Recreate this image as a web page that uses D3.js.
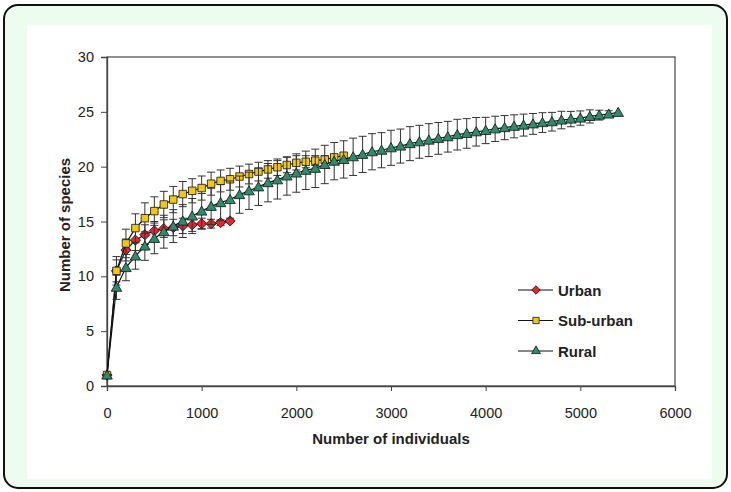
<!DOCTYPE html>
<html lang="en">
<head>
<meta charset="UTF-8">
<title>Species accumulation</title>
<script src="https://cdn.jsdelivr.net/npm/d3@7"></script>
<style>
  body { margin: 0; background: #fff; }
  svg text { font-family: "Liberation Sans", Arial, sans-serif; }
</style>
</head>
<body>
<script>
const w = 731
const h = 492

// Urban
const urbanN = [0, 100, 200, 300, 400, 500, 600, 700, 800, 900, 1000, 1100, 1200, 1300]
const urbanS = [1, 10.5, 12.4, 13.3, 13.8, 14.15, 14.35, 14.45, 14.6, 14.7, 14.8, 14.8, 14.9, 15.05]
const urbanErr = [0, 1.0, 1.0, 0.95, 0.9, 0.85, 0.8, 0.75, 0.7, 0.6, 0.5, 0.4, 0.25, 0]

// Sub-urban
const suburbN = [0, 100, 200, 300, 400, 500, 600, 700, 800, 900, 1000, 1100, 1200,
  1300, 1400, 1500, 1600, 1700, 1800, 1900, 2000, 2100, 2200, 2300, 2400, 2500]
const suburbS = [1, 10.5, 13.0, 14.4, 15.3, 15.95, 16.55, 17.0, 17.5, 17.8, 18.05, 18.45, 18.7,
  18.85, 19.1, 19.33, 19.55, 19.75, 19.95, 20.15, 20.35, 20.45, 20.55, 20.65, 20.85, 21.0]
const suburbErr = [0, 1.3, 1.3, 1.3, 1.4, 1.3, 1.2, 1.2, 1.15, 1.1, 1.1, 1.05, 1.0,
  1.0, 0.95, 0.9, 0.85, 0.8, 0.75, 0.7, 0.65, 0.55, 0.45, 0.35, 0.25, 0]

// Rural
const ruralN = [0, 100, 200, 300, 400, 500, 600, 700, 800, 900, 1000, 1100, 1200, 1300, 1400,
  1500, 1600, 1700, 1800, 1900, 2000, 2100, 2200, 2300, 2400, 2500, 2600, 2700, 2800, 2900,
  3000, 3100, 3200, 3300, 3400, 3500, 3600, 3700, 3800, 3900, 4000, 4100, 4200, 4300, 4400,
  4500, 4600, 4700, 4800, 4900, 5000, 5100, 5200, 5300, 5400]
const ruralS = [1, 9.0, 10.8, 11.85, 12.76, 13.46, 14.07, 14.58, 15.04, 15.5, 15.95, 16.38, 16.72, 17.0, 17.45,
  17.8, 18.16, 18.54, 18.8, 19.15, 19.42, 19.67, 19.85, 20.2, 20.5, 20.66, 20.9, 21.12, 21.36, 21.5,
  21.72, 21.88, 22.1, 22.27, 22.42, 22.58, 22.73, 22.92, 23.03, 23.18, 23.3, 23.45, 23.56, 23.68, 23.79,
  23.9, 24.02, 24.1, 24.25, 24.34, 24.43, 24.58, 24.7, 24.8, 24.95]
const ruralErr = [0, 1.1, 1.2, 1.2, 1.3, 1.4, 1.5, 1.5, 1.5, 1.6, 1.6, 1.65, 1.65, 1.7, 1.7,
  1.7, 1.7, 1.75, 1.75, 1.75, 1.75, 1.75, 1.75, 1.75, 1.7, 1.7, 1.7, 1.65, 1.65, 1.6,
  1.6, 1.55, 1.55, 1.5, 1.5, 1.45, 1.4, 1.4, 1.35, 1.3, 1.2, 1.15, 1.1, 1.05, 1.0,
  0.95, 0.9, 0.85, 0.8, 0.7, 0.65, 0.6, 0.45, 0.3, 0]

const xTicks = [0, 1000, 2000, 3000, 4000, 5000, 6000]
const yTicks = [0, 5, 10, 15, 20, 25, 30]

const series = [
  {name: "Urban", n: urbanN, s: urbanS, err: urbanErr, color: "#e8242b", shape: "diamond"},
  {name: "Sub-urban", n: suburbN, s: suburbS, err: suburbErr, color: "#f3c611", shape: "square"},
  {name: "Rural", n: ruralN, s: ruralS, err: ruralErr, color: "#2e8b6b", shape: "triangle"}
]

const svg = d3.select("body").append("svg").attr("width", w).attr("height", h)

// frame
svg.append("rect").attr("x", 4).attr("y", 5).attr("width", 723).attr("height", 483)
  .attr("rx", 14).attr("fill", "#ecfdef").attr("stroke", "#111").attr("stroke-width", 2)
svg.append("rect").attr("x", 27).attr("y", 25).attr("width", 685).attr("height", 454).attr("fill", "#fff")

const xScale = d3.scaleLinear().domain([0, 6000]).range([107, 675])
const yScale = d3.scaleLinear().domain([0, 30]).range([386, 57])

// plot box
svg.append("rect").attr("x", 107).attr("y", 57).attr("width", 568).attr("height", 329)
  .attr("fill", "none").attr("stroke", "#555").attr("stroke-width", 1.3)

const xAxis = svg.append("g").attr("transform", "translate(0,386)")
  .call(d3.axisBottom(xScale).tickValues(xTicks).tickFormat(d3.format("d")).tickSize(5).tickPadding(17))
const yAxis = svg.append("g").attr("transform", "translate(107,0)")
  .call(d3.axisLeft(yScale).tickValues(yTicks).tickSize(6).tickPadding(7))

for (const ax of [xAxis, yAxis]) {
  ax.select(".domain").attr("stroke", "#444").attr("stroke-width", 1.3)
  ax.selectAll(".tick line").attr("stroke", "#444")
  ax.selectAll("text").attr("font-size", 14.5).attr("fill", "#222")
    .style("font-family", "'Liberation Sans', Arial, sans-serif")
}

// axis titles
svg.append("text").attr("x", 391).attr("y", 444).attr("text-anchor", "middle")
  .attr("font-size", 15).attr("font-weight", "bold").attr("fill", "#222").text("Number of individuals")
svg.append("text").attr("transform", "translate(70,225) rotate(-90)").attr("text-anchor", "middle")
  .attr("font-size", 15).attr("font-weight", "bold").attr("fill", "#222").text("Number of species")

// marker shapes: diamond is a square turned 45 degrees
const shapeType = {diamond: d3.symbolSquare, square: d3.symbolSquare, triangle: d3.symbolTriangle}
const shapeRot = {diamond: 45, square: 0, triangle: 0}
const sizeFor = {diamond: 52, square: 56, triangle: 48}

const line = d3.line().x(d => xScale(d.n)).y(d => yScale(d.s))

// error bars for each series
for (const sr of series) {
  const pts = sr.n.map((n, i) => ({n: n, s: sr.s[i], e: sr.err[i]}))
  const g = svg.append("g")
  const eb = g.selectAll(".err").data(pts.filter(d => d.e > 0)).enter().append("g")
    .attr("stroke", "#333").attr("stroke-width", 1)
  eb.append("line").attr("x1", d => xScale(d.n)).attr("x2", d => xScale(d.n))
    .attr("y1", d => yScale(d.s - d.e)).attr("y2", d => yScale(d.s + d.e))
  eb.append("line").attr("x1", d => xScale(d.n) - 4).attr("x2", d => xScale(d.n) + 4)
    .attr("y1", d => yScale(d.s + d.e)).attr("y2", d => yScale(d.s + d.e))
  eb.append("line").attr("x1", d => xScale(d.n) - 4).attr("x2", d => xScale(d.n) + 4)
    .attr("y1", d => yScale(d.s - d.e)).attr("y2", d => yScale(d.s - d.e))
  sr.pts = pts
  sr.g = g
}
for (const sr of series) {
  sr.g.append("path").datum(sr.pts).attr("d", line).attr("fill", "none")
    .attr("stroke", "#111").attr("stroke-width", 1.2)
}
for (const sr of series) {
  sr.g.selectAll(".mark").data(sr.pts).enter().append("path")
    .attr("transform", d => `translate(${xScale(d.n)},${yScale(d.s) + (sr.shape === "triangle" ? 1 : 0)}) rotate(${shapeRot[sr.shape]})`)
    .attr("d", d3.symbol(shapeType[sr.shape], sizeFor[sr.shape]))
    .attr("fill", sr.color).attr("stroke", "#111").attr("stroke-width", 0.8)
}

// legend
const legend = svg.append("g").attr("id", "legend")
series.forEach((sr, i) => {
  const y = 290 + i * 30.5
  legend.append("line").attr("x1", 518).attr("x2", 553).attr("y1", y).attr("y2", y)
    .attr("stroke", "#111").attr("stroke-width", 1.2)
  legend.append("path").attr("transform", `translate(536,${y}) rotate(${shapeRot[sr.shape]})`)
    .attr("d", d3.symbol(shapeType[sr.shape], sizeFor[sr.shape] * 0.7))
    .attr("fill", sr.color).attr("stroke", "#111").attr("stroke-width", 0.8)
  legend.append("text").attr("x", 558).attr("y", y + 5.5).attr("font-size", 15)
    .attr("font-weight", "bold").attr("fill", "#222").text(sr.name)
})
</script>
</body>
</html>
